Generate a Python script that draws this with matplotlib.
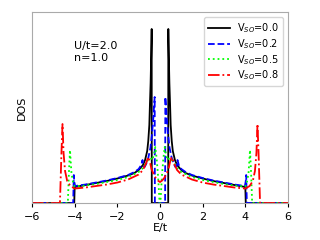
import matplotlib
matplotlib.use("Agg")
import matplotlib.pyplot as plt

# --- Data (DOS in arbitrary units) ---
e_v00 = [-6.0, -4.02, -4.0, -3.5, -3.0, -2.5, -2.0, -1.5, -1.2, -1.0, -0.8, -0.7,
         -0.6, -0.55, -0.5, -0.47, -0.44, -0.42, -0.40, -0.39, -0.385,
         0.385, 0.39, 0.40, 0.42, 0.44, 0.47, 0.5, 0.55, 0.6, 0.7, 0.8, 1.0,
         1.2, 1.5, 2.0, 2.5, 3.0, 3.5, 4.0, 4.02, 6.0]
dos_v00 = [0.0, 0.0, 0.16, 0.18, 0.20, 0.22, 0.245, 0.275, 0.30, 0.33, 0.38, 0.43,
           0.52, 0.62, 0.78, 1.0, 1.2, 1.4, 1.6, 1.74, 0.0,
           0.0, 1.74, 1.6, 1.4, 1.2, 1.0, 0.78, 0.62, 0.52, 0.43, 0.38, 0.33,
           0.30, 0.275, 0.245, 0.22, 0.20, 0.18, 0.16, 0.0, 0.0]

e_v02 = [-6.0, -4.07, -4.04, -4.02, -3.98, -3.5, -3.0, -2.5, -2.0, -1.5, -1.2,
         -1.0, -0.88, -0.82, -0.78, -0.72, -0.65, -0.55, -0.45, -0.37, -0.31,
         -0.27, -0.25, -0.24,
         0.24, 0.25, 0.27, 0.31, 0.37, 0.45, 0.55, 0.65, 0.72, 0.78, 0.82,
         0.88, 1.0, 1.2, 1.5, 2.0, 2.5, 3.0, 3.5, 3.98, 4.02, 4.04, 4.07, 6.0]
dos_v02 = [0.0, 0.0, 0.28, 0.22, 0.17, 0.185, 0.205, 0.225, 0.25, 0.28, 0.31,
           0.34, 0.38, 0.43, 0.37, 0.36, 0.39, 0.45, 0.55, 0.70, 0.86,
           1.0, 1.06, 0.0,
           0.0, 1.06, 1.0, 0.86, 0.70, 0.55, 0.45, 0.39, 0.36, 0.37, 0.43,
           0.38, 0.34, 0.31, 0.28, 0.25, 0.225, 0.205, 0.185, 0.17, 0.22, 0.28, 0.0, 0.0]

e_v05 = [-6.0, -4.32, -4.27, -4.22, -4.15, -4.07, -4.0, -3.5, -3.0, -2.5, -2.0,
         -1.5, -1.0, -0.8, -0.6, -0.45, -0.35, -0.27, -0.22, -0.16, -0.1,
         -0.05, -0.02,
         0.02, 0.05, 0.1, 0.16, 0.22, 0.27, 0.35, 0.45, 0.6, 0.8, 1.0, 1.5,
         2.0, 2.5, 3.0, 3.5, 4.0, 4.07, 4.15, 4.22, 4.27, 4.32, 6.0]
dos_v05 = [0.0, 0.0, 0.3, 0.53, 0.30, 0.2, 0.165, 0.175, 0.19, 0.21, 0.23,
           0.26, 0.31, 0.35, 0.42, 0.45, 0.43, 0.50, 0.56, 0.45, 0.30,
           0.12, 0.0,
           0.0, 0.12, 0.30, 0.45, 0.56, 0.50, 0.43, 0.45, 0.42, 0.35, 0.31, 0.26,
           0.23, 0.21, 0.19, 0.175, 0.165, 0.2, 0.30, 0.53, 0.3, 0.0, 0.0]

e_v08 = [-6.0, -4.69, -4.62, -4.57, -4.52, -4.45, -4.35, -4.2, -4.0, -3.5, -3.0,
         -2.5, -2.0, -1.5, -1.0, -0.8, -0.65, -0.55, -0.48, -0.4, -0.3, -0.2,
         -0.1, 0.0, 0.1, 0.2, 0.3, 0.4, 0.48, 0.55, 0.65, 0.8, 1.0, 1.5, 2.0,
         2.5, 3.0, 3.5, 4.0, 4.2, 4.35, 4.45, 4.52, 4.57, 4.62, 4.69, 6.0]
dos_v08 = [0.0, 0.0, 0.5, 0.79, 0.5, 0.32, 0.22, 0.17, 0.145, 0.155, 0.17,
           0.185, 0.205, 0.235, 0.285, 0.33, 0.40, 0.46, 0.42, 0.34, 0.29, 0.25,
           0.225, 0.21, 0.225, 0.25, 0.29, 0.34, 0.42, 0.46, 0.40, 0.33, 0.285,
           0.235, 0.205, 0.185, 0.17, 0.155, 0.145, 0.17, 0.22, 0.32, 0.5, 0.79,
           0.5, 0.0, 0.0]

labels = [r"V$_{SO}$=0.0", r"V$_{SO}$=0.2", r"V$_{SO}$=0.5", r"V$_{SO}$=0.8"]

fig = plt.figure(figsize=(3.2, 2.4), dpi=100)
ax = fig.add_axes([0.1, 0.154, 0.8, 0.794])

ax.plot(e_v00, dos_v00, color="k", ls="-", lw=1.3, label=labels[0])
ax.plot(e_v02, dos_v02, color="b", ls="--", lw=1.3, label=labels[1])
ax.plot(e_v05, dos_v05, color="lime", ls=":", lw=1.3, label=labels[2])
ax.plot(e_v08, dos_v08, color="r", ls="-.", lw=1.3, label=labels[3])

ax.set_xlim(-6, 6)
ax.set_ylim(0, 1.905)
ax.set_xticks([-6, -4, -2, 0, 2, 4, 6])
ax.set_yticks([])
ax.tick_params(labelsize=8, length=3)
ax.set_xlabel("E/t", fontsize=8, labelpad=1)
ax.set_ylabel("DOS", fontsize=8)
for sp in ax.spines.values():
    sp.set_color("#aaaaaa")

ax.text(0.164, 0.85, "U/t=2.0\nn=1.0", transform=ax.transAxes, fontsize=8,
        va="top", ha="left")
ax.legend(loc="upper right", fontsize=7, handlelength=2.2, borderaxespad=0.5,
          labelspacing=0.2)

fig.savefig("out.png", dpi=100)
